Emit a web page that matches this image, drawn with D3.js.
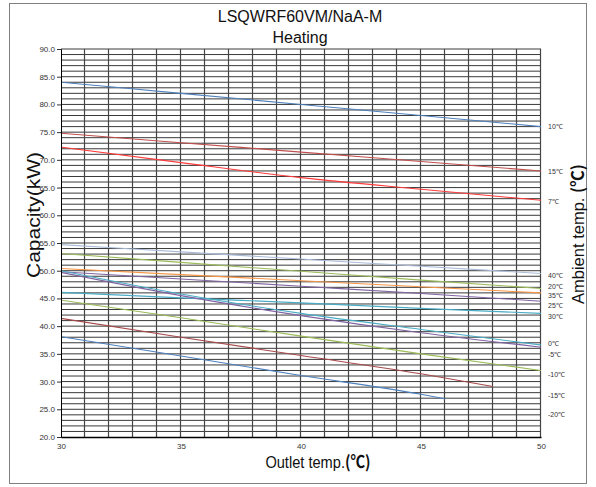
<!DOCTYPE html>
<html><head><meta charset="utf-8">
<script src="https://cdn.jsdelivr.net/npm/d3@7"></script>
<style>body{margin:0;background:#fff}svg{display:block;font-family:"Liberation Sans",Arial,sans-serif}</style>
</head><body>
<script>
// ---- data ----
const title = "LSQWRF60VM/NaA-M";
const subtitle = "Heating";
const xTicks = [30, 35, 40, 45, 50];
const yTicks = [20, 25, 30, 35, 40, 45, 50, 55, 60, 65, 70, 75, 80, 85, 90];
const outlet = [30, 35, 40, 45, 50];
const outletM15 = [30, 35, 40, 45, 48];
const outletM20 = [30, 35, 40, 45, 46];
const ambientNames = ["10℃","15℃","7℃","40℃","20℃","35℃","25℃","30℃","0℃","-5℃","-10℃","-15℃","-20℃"];
const cap10 = [84.0, 82.0, 80.0, 78.0, 76.0];
const cap15 = [74.8, 73.1, 71.4, 69.7, 68.0];
const cap7 = [72.3, 69.5, 66.8, 64.7, 62.7];
const cap40 = [54.7, 53.4, 52.1, 50.8, 49.5];
const cap20 = [53.1, 51.5, 49.9, 48.3, 46.8];
const cap35 = [50.4, 49.3, 48.2, 47.1, 46.0];
const cap25 = [49.8, 48.5, 47.2, 45.9, 44.5];
const cap30 = [46.1, 45.1, 44.2, 43.2, 42.3];
const cap0 = [50.0, 45.8, 42.3, 39.4, 36.6];
const capM5 = [49.7, 45.5, 41.9, 38.8, 36.2];
const capM10 = [44.7, 41.5, 38.2, 35.0, 32.0];
const capM15 = [41.4, 38.0, 34.7, 31.4, 29.1];
const capM20 = [38.1, 34.6, 31.1, 27.7, 26.9];
const labelAt = [76.0, 67.9, 62.4, 49.1, 47.2, 45.6, 43.8, 41.7, 36.8, 34.8, 31.2, 27.4, 24.0];
const colors = ["#4f81bd","#c0504d","#ff3b3b","#a9bcd9","#9bbb59","#f79646","#8064a2","#4bacc6","#4bacc6","#8064a2","#9bbb59","#a84a4a","#4f81bd"];

const seriesX = [outlet,outlet,outlet,outlet,outlet,outlet,outlet,outlet,outlet,outlet,outlet,outletM15,outletM20];
const seriesY = [cap10,cap15,cap7,cap40,cap20,cap35,cap25,cap30,cap0,capM5,capM10,capM15,capM20];
const series = ambientNames.map((n,i)=>({name:n,color:colors[i],label:labelAt[i],
  pts: seriesX[i].map((x,j)=>({x, y: seriesY[i][j]}))}));

// ---- layout ----
const W = 596, H = 487;
const svg = d3.select("body").append("svg").attr("width", W).attr("height", H);
const x = d3.scaleLinear().domain([30, 50]).range([61, 541]);
const y = d3.scaleLinear().domain([20, 90]).range([437, 49]);

svg.append("rect").attr("x", 9.5).attr("y", 3.5).attr("width", 577).attr("height", 480)
  .attr("fill", "none").attr("stroke", "#808080");

// grid
const g = svg.append("g");
g.selectAll("line.h").data(d3.range(21, 91)).join("line")
  .attr("x1", x(30)).attr("x2", x(50)).attr("y1", d => y(d)).attr("y2", d => y(d))
  .attr("stroke", "#3a3a3a").attr("stroke-width", 1);
g.selectAll("line.v").data(d3.range(31, 51)).join("line")
  .attr("x1", d => x(d) - 0.5).attr("x2", d => x(d) - 0.5).attr("y1", y(20)).attr("y2", y(90))
  .attr("stroke", "#444").attr("stroke-width", 1.2);

// series
const line = d3.line().x(d => x(d.x)).y(d => y(d.y)).curve(d3.curveMonotoneX);
svg.append("g").selectAll("path").data(series).join("path")
  .attr("d", d => line(d.pts)).attr("fill", "none")
  .attr("stroke", d => d.color).attr("stroke-width", 1.1);

// axes
const yAxis = d3.axisLeft(y).tickValues(yTicks).tickFormat(d3.format(".1f")).tickSize(4).tickPadding(2);
const ya = svg.append("g").attr("transform", `translate(${x(30)},0)`).call(yAxis);
ya.select(".domain").attr("stroke", "#000");
ya.selectAll("text").attr("font-size", 8).attr("fill", "#333").attr("font-family", "Liberation Sans, Arial");
ya.selectAll(".tick line").attr("stroke", "#333");

const xAxis = d3.axisBottom(x).tickValues(xTicks).tickSize(0).tickPadding(6);
const xa = svg.append("g").attr("transform", `translate(0,${y(20)})`).call(xAxis);
xa.select(".domain").attr("stroke", "#000").attr("stroke-width", 1.5);
xa.selectAll("text").attr("font-size", 8).attr("fill", "#333").attr("font-family", "Liberation Sans, Arial");

// right labels
svg.append("g").selectAll("text").data(series).join("text")
  .attr("x", 548).attr("y", d => y(d.label)).attr("dy", "0.35em")
  .attr("font-size", 7).attr("fill", "#333").text(d => d.name);

// titles
svg.append("text").attr("x", 300).attr("y", 22).attr("text-anchor", "middle")
  .attr("font-size", 16).attr("fill", "#111").text(title);
svg.append("text").attr("x", 300).attr("y", 43).attr("text-anchor", "middle")
  .attr("font-size", 16).attr("fill", "#111").text(subtitle);

const xt = svg.append("text").attr("transform", "translate(318,468) scale(0.86,1)").attr("text-anchor", "middle")
  .attr("font-size", 17).attr("fill", "#111");
xt.append("tspan").text("Outlet temp.");
xt.append("tspan").attr("font-weight", "bold").attr("font-family", "Noto Sans CJK SC").text("(℃)");

svg.append("text").attr("transform", "translate(40,215) rotate(-90) scale(1,0.88)").attr("text-anchor", "middle")
  .attr("font-size", 21).attr("fill", "#111").text("Capacity(kW)");

const at = svg.append("text").attr("transform", "translate(584,234) rotate(-90)").attr("text-anchor", "middle")
  .attr("font-size", 16.5).attr("fill", "#111");
at.append("tspan").text("Ambient temp. ");
at.append("tspan").attr("font-weight", "bold").attr("font-family", "Noto Sans CJK SC").text("(℃)");
</script>
</body></html>
